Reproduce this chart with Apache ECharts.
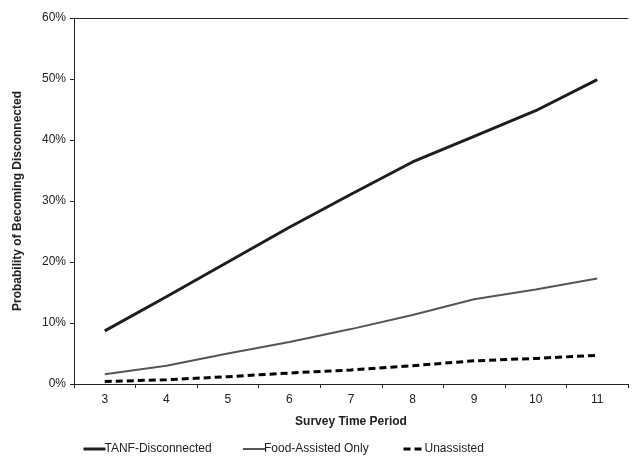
<!DOCTYPE html>
<html><head><meta charset="utf-8">
<script src="https://cdn.jsdelivr.net/npm/echarts@6/dist/echarts.min.js"></script>
<style>html,body{margin:0;padding:0;background:#fff}#c{width:640px;height:460px}</style>
</head><body><div id="c"></div>
<script>
const categories = ['3','4','5','6','7','8','9','10','11'];
const tanf = [8.7, 14.3, 20.0, 25.7, 31.1, 36.4, 40.6, 44.8, 49.9];
const foodOnly = [1.6, 3.0, 5.0, 6.9, 9.0, 11.3, 13.9, 15.5, 17.3];
const unassisted = [0.4, 0.7, 1.2, 1.8, 2.3, 3.0, 3.8, 4.2, 4.7];
const seriesNames = ['TANF-Disconnected', 'Food-Assisted Only', 'Unassisted'];

const font = 'Liberation Sans, Arial, sans-serif';
const chart = echarts.init(document.getElementById('c'), null, {renderer: 'canvas'});
function legendFor(name, left, lw) {
  return {left: left, bottom: 0, data: [name], itemWidth: 22, itemHeight: 10, itemGap: 0,
    itemStyle: {opacity: 0}, lineStyle: {width: lw},
    textStyle: {fontFamily: font, fontSize: 12, color: '#222', padding: [0,0,0,-6]}};
}
chart.setOption({
  animation: false,
  grid: {left: 74, right: 12, top: 18, bottom: 76},
  legend: [
    legendFor(seriesNames[0], 77, 3),
    legendFor(seriesNames[1], 237, 2),
    legendFor(seriesNames[2], 397, 3)
  ],
  xAxis: [{
    type: 'category', data: categories, boundaryGap: true,
    name: 'Survey Time Period', nameLocation: 'middle', nameGap: 32,
    nameTextStyle: {fontFamily: font, fontSize: 12, fontWeight: 'bold', color: '#222'},
    axisLine: {lineStyle: {color: '#222', width: 1}},
    axisTick: {show: true, length: 4, lineStyle: {color: '#222'}},
    axisLabel: {fontFamily: font, fontSize: 12, color: '#222', margin: 10},
    splitLine: {show: false}
  }, {
    type: 'category', data: categories, position: 'top',
    axisLine: {show: true, lineStyle: {color: '#222', width: 1}},
    axisTick: {show: false}, axisLabel: {show: false}
  }],
  yAxis: {
    type: 'value', min: 0, max: 60, interval: 10,
    name: 'Probability of Becoming Disconnected', nameLocation: 'middle', nameGap: 50,
    nameTextStyle: {fontFamily: font, fontSize: 12, fontWeight: 'bold', color: '#222'},
    axisLine: {show: true, lineStyle: {color: '#222', width: 1}},
    axisTick: {show: true, length: 4, lineStyle: {color: '#222'}},
    axisLabel: {fontFamily: font, fontSize: 12, color: '#222', formatter: '{value}%', margin: 8},
    splitLine: {show: false}
  },
  series: [
    {name: seriesNames[0], type: 'line', data: tanf, symbol: 'none',
     lineStyle: {color: '#1e1e1e', width: 3}, itemStyle: {color: '#1e1e1e'}},
    {name: seriesNames[1], type: 'line', data: foodOnly, symbol: 'none',
     lineStyle: {color: '#555', width: 2}, itemStyle: {color: '#555'}},
    {name: seriesNames[2], type: 'line', data: unassisted, symbol: 'none',
     lineStyle: {color: '#000', width: 3, type: [7, 4]}, itemStyle: {color: '#000'}}
  ]
});
</script></body></html>
